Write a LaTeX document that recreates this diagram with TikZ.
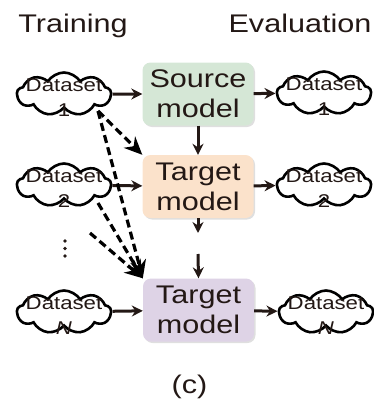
\documentclass[tikz,border=0pt]{standalone}
\usepackage{fontspec}
\setmainfont[FakeStretch=1.2]{Liberation Sans}
\usetikzlibrary{shapes.symbols,arrows.meta,shadows}

\definecolor{ink}{HTML}{231815}
\definecolor{srcgreen}{HTML}{D5E7D6}
\definecolor{tgtpeach}{HTML}{FBE2CB}
\definecolor{tgtlilac}{HTML}{DED3E6}

\begin{document}
\begin{tikzpicture}[x=1pt,y=-1pt,
  model/.style={rectangle, rounded corners=8pt, minimum width=111pt,
    minimum height=63pt, align=center, text=ink, inner sep=0pt,
    font=\fontsize{25.5}{30}\selectfont,
    drop shadow={shadow xshift=1.5pt, shadow yshift=-1.5pt, opacity=0.25}},
  data/.style={cloud, cloud puffs=9, cloud puff arc=115, draw=black,
    line width=2.6pt, minimum width=94pt, minimum height=43pt, inner sep=0pt,
    label={[font=\fontsize{18.5}{25}\selectfont, text=ink, align=center,
      yshift=-4pt]center:#1}},
  heading/.style={anchor=base, text=ink, font=\fontsize{25.5}{30}\selectfont},
  flow/.style={draw=ink, line width=3pt, -{Stealth[length=11pt,width=11pt]}},
  reuse/.style={draw=black, line width=3.2pt, dash pattern=on 8pt off 4.5pt,
    -{Stealth[length=18pt,width=16pt]}},
  dot/.style={fill=ink, circle, inner sep=0pt, minimum size=3.6pt}
]
\useasboundingbox (0,0) rectangle (373,410);

% column headings
\node[heading] (train) at (73,32) {Training};
\node[heading] (eval) at (300,32) {Evaluation};

% models
\node[model, fill=srcgreen] (src) at (198,94) {Source\\model};
\node[model, fill=tgtpeach] (t1) at (198,186.5) {Target\\model};
\node[model, fill=tgtlilac] (t2) at (198.5,310) {Target\\model};

% training datasets
\node[data={Dataset\\1}] (d1) at (64,94) {};
\node[data={Dataset\\2}] (d2) at (64,185) {};
\node[data={Dataset\\\textit{N}}] (dN) at (64,312) {};

% evaluation datasets
\node[data={Dataset\\1}] (e1) at (324,93) {};
\node[data={Dataset\\2}] (e2) at (324,185) {};
\node[data={Dataset\\\textit{N}}] (eN) at (326,312) {};

% vertical ellipsis between dataset 2 and dataset N
\node[dot] (v1) at (65,241) {};
\node[dot] (v2) at (65,248.5) {};
\node[dot] (v3) at (65,256) {};

% training and evaluation flow
\draw[flow] (d1) -- (src);
\draw[flow] (d2) -- (t1);
\draw[flow] (dN) -- (t2);
\draw[flow] (src) -- (e1);
\draw[flow] (t1) -- (e2);
\draw[flow] (t2) -- (eN);

% model chain
\coordinate (gapA) at (198,233);
\coordinate (gapB) at (198,254);
\draw[flow] (src) -- (t1);
\draw[flow] (t1.south) -- (gapA);
\draw[flow] (gapB) -- (t2.north);

% reused training data
\coordinate (s1) at (98,111);
\coordinate (s2) at (98,203);
\coordinate (s3) at (90,233);
\draw[reuse] (s1) -- (t1.north west);
\draw[reuse] (s1) -- (t2.north west);
\draw[reuse] (s2) -- (t2.north west);
\draw[reuse] (s3) -- (t2.north west);

% caption
\node[heading] (cap) at (189.5,393) {(c)};
\end{tikzpicture}
\end{document}
